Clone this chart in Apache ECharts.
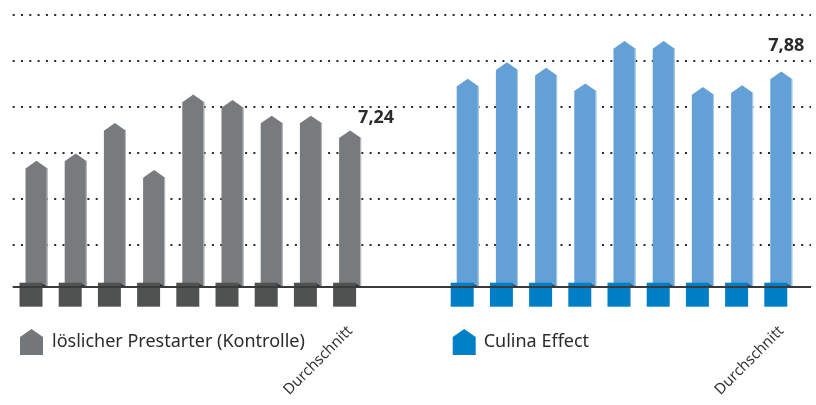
<!DOCTYPE html>
<html><head><meta charset="utf-8">
<script src="https://cdn.jsdelivr.net/npm/echarts@6/dist/echarts.min.js"></script>
<style>html,body{margin:0;padding:0;background:#fff}#chart{width:816px;height:405px}</style>
</head><body><div id="chart"></div>
<script>
// ---- data ----
const tickLabels = ['', '', '', '', '', '', '', '', 'Durchschnitt', '', '', '', '', '', '', '', '', '', '', 'Durchschnitt'];
const controlName = 'löslicher Prestarter (Kontrolle)';
const effectName = 'Culina Effect';
const controlValues = [6.91, 6.99, 7.32, 6.81, 7.63, 7.57, 7.40, 7.40, 7.24];
const effectValues = [7.80, 7.98, 7.92, 7.75, 8.21, 8.21, 7.71, 7.73, 7.88];
const axisMin = 5.544;
const axisMax = 8.5;
const gridMin = 5.5;
const gridStep = 0.5;

// ---- styles ----
const FONT = '"Noto Sans", sans-serif';
const HOUSE = 'path://M0,8L11.5,0L23,8L23,26L0,26Z';
const effectStart = tickLabels.length - effectValues.length;

function makeRender(barColor, edgeColor, squareColor, shadowColor, labelOffset) {
  return function (params, api) {
    const xi = api.value(0), v = api.value(1);
    const top = api.coord([xi, v]);
    const base = api.coord([xi, axisMin]);
    const half = 11, apex = 7.7;
    const cx = top[0], ty = top[1], by = base[1];
    const sqL = cx - 17, sqR = sqL + 23;
    const children = [
      { type: 'polygon', shape: { points: [[cx - half, by], [cx - half, ty + apex], [cx, ty], [cx + half, ty + apex], [cx + half, by]] }, style: { fill: barColor } },
      { type: 'line', shape: { x1: cx + half - 0.5, y1: ty + apex, x2: cx + half - 0.5, y2: by }, style: { stroke: edgeColor, lineWidth: 1 } },
      { type: 'polygon', shape: { points: [[sqR - 2, by - 4], [cx + half, by], [sqR - 2, by]] }, style: { fill: shadowColor } },
      { type: 'rect', shape: { x: sqL, y: by - 4, width: 23, height: 24 }, style: { fill: squareColor } }
    ];
    if (params.dataIndexInside === params.dataInsideLength - 1) {
      children.push({ type: 'text', x: cx + labelOffset[0], y: ty + labelOffset[1],
        style: { text: v.toFixed(2).replace('.', ','), fill: '#2b2b2b', font: 'bold 18px ' + FONT, align: 'center', verticalAlign: 'middle' } });
    }
    return { type: 'group', children: children };
  };
}

const chart = echarts.init(document.getElementById('chart'));
chart.setOption({
  animation: false,
  backgroundColor: '#fff',
  grid: [
    { left: 16.9, right: 15.1, top: 14.3, bottom: 405 - 286.7 },
    { left: 12.7, right: 5, top: 14.3, bottom: 405 - 290.7 }
  ],
  xAxis: [
    { type: 'category', gridIndex: 0, data: tickLabels.map((_, i) => String(i)), boundaryGap: true,
      axisLine: { show: false }, axisTick: { show: false }, splitLine: { show: false },
      axisLabel: { interval: 0, rotate: 45, margin: 42, fontSize: 15, color: '#333', fontFamily: FONT,
        formatter: (val, idx) => tickLabels[idx] } },
    { type: 'value', gridIndex: 1, min: 0, max: 1, show: false }
  ],
  yAxis: [
    { type: 'value', gridIndex: 0, min: axisMin, max: axisMax, show: false },
    { type: 'value', gridIndex: 1, min: gridMin, max: axisMax, interval: gridStep,
      axisLine: { show: false }, axisTick: { show: false }, axisLabel: { show: false },
      splitLine: { show: true, showMinLine: false, lineStyle: { color: '#2a2a2a', width: 2, type: [2, 6.3] } } }
  ],
  legend: [
    { data: [{ name: controlName, icon: HOUSE, itemStyle: { color: '#75787b' } }],
      left: 20, top: 329, padding: 0, itemWidth: 23, itemHeight: 26, selectedMode: false,
      textStyle: { fontSize: 18, color: '#2b2b2b', fontFamily: FONT, padding: [0, 0, 0, 4] } },
    { data: [{ name: effectName, icon: HOUSE, itemStyle: { color: '#0080c6' } }],
      left: 452.7, top: 329, padding: 0, itemWidth: 23, itemHeight: 26, selectedMode: false,
      textStyle: { fontSize: 18, color: '#2b2b2b', fontFamily: FONT, padding: [0, 0, 0, 3] } }
  ],
  series: [
    { type: 'line', xAxisIndex: 1, yAxisIndex: 1, data: [[0, gridMin]], showSymbol: false, silent: true,
      lineStyle: { opacity: 0 }, z: 1,
      markLine: { symbol: 'none', silent: true, label: { show: false }, animation: false,
        lineStyle: { color: '#3a3a3a', width: 2, type: 'solid' }, data: [{ yAxis: axisMin }] } },
    { type: 'custom', name: controlName, xAxisIndex: 0, yAxisIndex: 0, z: 3,
      itemStyle: { color: '#75787b' },
      encode: { x: 0, y: 1 },
      data: controlValues.map((v, i) => [i, v]),
      renderItem: makeRender('#787b7e', '#b9bcbe', '#505251', '#2c2c2c', [26, -13]) },
    { type: 'custom', name: effectName, xAxisIndex: 0, yAxisIndex: 0, z: 3,
      itemStyle: { color: '#0080c6' },
      encode: { x: 0, y: 1 },
      data: effectValues.map((v, j) => [effectStart + j, v]),
      renderItem: makeRender('#62a0d6', '#a9cdee', '#007fc6', '#2f4f6a', [5, -26]) }
  ]
});
</script></body></html>
